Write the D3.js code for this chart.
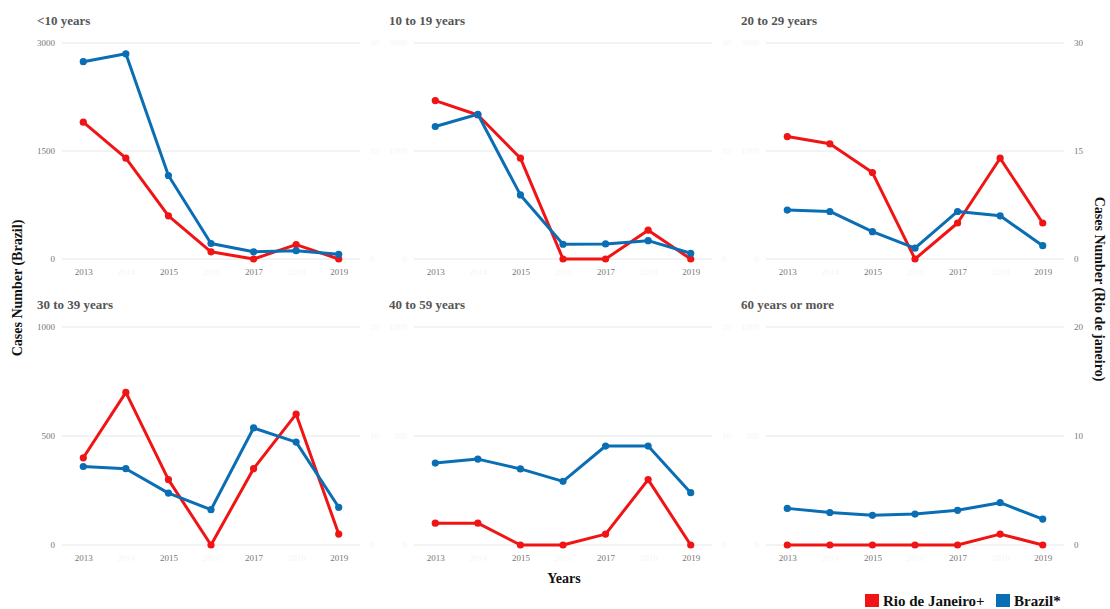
<!DOCTYPE html>
<html>
<head>
<meta charset="utf-8">
<script src="https://cdn.jsdelivr.net/npm/d3@7"></script>
<style>
  body { margin: 0; background: #fff; }
  svg { display: block; }
</style>
</head>
<body>
<div id="chart"></div>
<script>
// data
var years = [2013, 2014, 2015, 2016, 2017, 2018, 2019];
var groups = ["<10 years", "10 to 19 years", "20 to 29 years", "30 to 39 years", "40 to 59 years", "60 years or more"];
var brazil = [
  [2740, 2850, 1160, 215, 100, 115, 65],
  [1840, 2010, 890, 205, 210, 255, 80],
  [680, 660, 380, 150, 660, 600, 185],
  [360, 350, 238, 162, 537, 472, 173],
  [376, 394, 349, 292, 454, 454, 240],
  [168, 149, 136, 142, 159, 194, 119]
];
var rio = [
  [19, 14, 6, 1, 0, 2, 0],
  [22, 20, 14, 0, 0, 4, 0],
  [17, 16, 12, 0, 5, 14, 5],
  [8, 14, 6, 0, 7, 12, 1],
  [2, 2, 0, 0, 1, 6, 0],
  [0, 0, 0, 0, 0, 1, 0]
];
var brazilTicks = [[0, 1500, 3000], [0, 500, 1000]];
var rioTicks = [[0, 15, 30], [0, 10, 20]];
var shownYears = [2013, 2015, 2017, 2019];

var W = 1110, H = 609;
var colX = [62, 414, 766], panelW = 298;
var rowY = [[43, 259], [327, 545]];
var red = "#f01414", blue = "#0a6eb4";
var serif = "'Liberation Serif', 'DejaVu Serif', serif";
var faded = "#f6f6f6";

var svg = d3.select("#chart").append("svg")
  .attr("width", W).attr("height", H)
  .style("font-family", serif);

groups.forEach(function(name, i) {
  var row = Math.floor(i / 3), col = i % 3;
  var x0 = colX[col], x1 = x0 + panelW;
  var yTop = rowY[row][0], yBot = rowY[row][1];

  var x = d3.scalePoint().domain(years).range([x0, x1]).padding(0.5);
  var yL = d3.scaleLinear().domain([0, d3.max(brazilTicks[row])]).range([yBot, yTop]);
  var yR = d3.scaleLinear().domain([0, d3.max(rioTicks[row])]).range([yBot, yTop]);

  var g = svg.append("g");

  // gridlines
  g.selectAll(".grid").data(brazilTicks[row]).enter().append("line")
    .attr("x1", x0).attr("x2", x1)
    .attr("y1", function(d) { return yL(d); })
    .attr("y2", function(d) { return yL(d); })
    .attr("stroke", "#e6e6e6").attr("stroke-width", 1);

  // left axis labels (only first column is readable)
  var leftAxis = d3.axisLeft(yL).tickValues(brazilTicks[row]).tickFormat(d3.format("d"))
    .tickSize(0).tickPadding(7);
  var la = g.append("g").attr("transform", "translate(" + x0 + ",0)").call(leftAxis);
  la.select(".domain").remove();
  la.selectAll("text").attr("font-family", serif).attr("font-size", 9)
    .attr("fill", col === 0 ? "#777" : faded);

  // right axis labels (only last column is readable)
  var rightAxis = d3.axisRight(yR).tickValues(rioTicks[row]).tickFormat(d3.format("d"))
    .tickSize(0).tickPadding(10);
  var ra = g.append("g").attr("transform", "translate(" + x1 + ",0)").call(rightAxis);
  ra.select(".domain").remove();
  ra.selectAll("text").attr("font-family", serif).attr("font-size", 9)
    .attr("fill", col === 2 ? "#777" : faded);

  // x axis
  var xAxis = d3.axisBottom(x).tickSize(0).tickPadding(10);
  var xa = g.append("g").attr("transform", "translate(0," + yBot + ")").call(xAxis);
  xa.select(".domain").remove();
  xa.selectAll("text").attr("font-family", serif).attr("font-size", 9)
    .attr("fill", function(d) { return shownYears.indexOf(d) >= 0 ? "#777" : faded; });

  // title
  g.append("text")
    .attr("x", x0 - 25).attr("y", yTop - 18)
    .attr("font-size", 13).attr("font-weight", "bold").attr("fill", "#555")
    .text(name);

  var series = [
    { vals: rio[i], y: yR, color: red },
    { vals: brazil[i], y: yL, color: blue }
  ];
  series.forEach(function(s) {
    var line = d3.line()
      .x(function(d, k) { return x(years[k]); })
      .y(function(d) { return s.y(d); });
    g.append("path")
      .attr("d", line(s.vals))
      .attr("fill", "none").attr("stroke", s.color)
      .attr("stroke-width", 3).attr("stroke-linejoin", "round");
    g.selectAll(null).data(s.vals).enter().append("circle")
      .attr("cx", function(d, k) { return x(years[k]); })
      .attr("cy", function(d) { return s.y(d); })
      .attr("r", 3.6).attr("fill", s.color);
  });
});

// axis titles
svg.append("text")
  .attr("transform", "translate(22,288) rotate(-90)")
  .attr("text-anchor", "middle").attr("font-size", 14).attr("font-weight", "bold")
  .attr("fill", "#111").text("Cases Number (Brazil)");
svg.append("text")
  .attr("transform", "translate(1095,289) rotate(90)")
  .attr("text-anchor", "middle").attr("font-size", 14).attr("font-weight", "bold")
  .attr("fill", "#111").text("Cases Number (Rio de janeiro)");
svg.append("text")
  .attr("x", 564).attr("y", 583)
  .attr("text-anchor", "middle").attr("font-size", 14).attr("font-weight", "bold")
  .attr("fill", "#111").text("Years");

// legend
var legend = [
  { label: "Rio de Janeiro+", color: red, x: 865 },
  { label: "Brazil*", color: blue, x: 996 }
];
var lg = svg.append("g");
lg.selectAll("rect").data(legend).enter().append("rect")
  .attr("x", function(d) { return d.x; }).attr("y", 594)
  .attr("width", 14).attr("height", 13)
  .attr("fill", function(d) { return d.color; });
lg.selectAll("text").data(legend).enter().append("text")
  .attr("x", function(d) { return d.x + 18; }).attr("y", 606)
  .attr("font-size", 15).attr("font-weight", "bold").attr("fill", "#111")
  .text(function(d) { return d.label; });
</script>
</body>
</html>
